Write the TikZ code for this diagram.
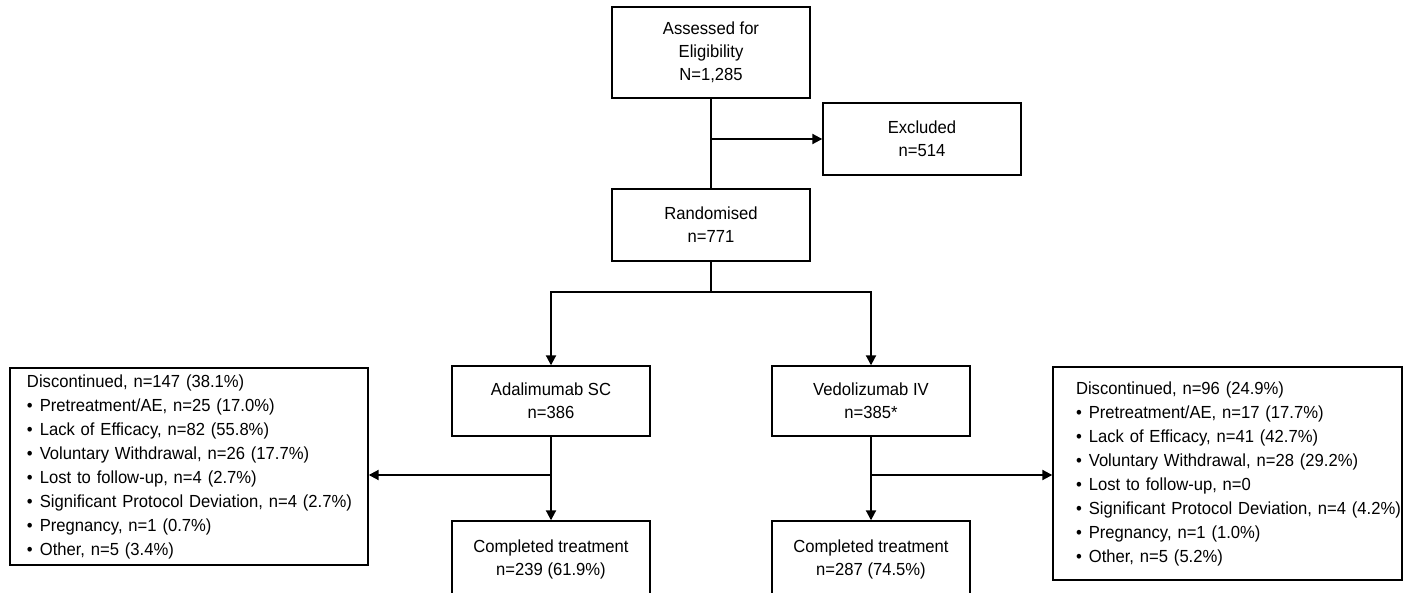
\documentclass[tikz,border=0pt]{standalone}
\usepackage{fontspec}
\setmainfont{Liberation Sans}[FakeStretch=0.95]
\usetikzlibrary{arrows.meta}

\begin{document}
\begin{tikzpicture}[x=1pt, y=-1pt,
    box/.style={draw, line width=1.4pt, minimum width=198pt, align=center, font=\fontsize{17.5}{23}\selectfont},
    reasons/.style={draw, line width=1.4pt, inner xsep=0pt, align=left, font=\fontsize{17.5}{24}\selectfont},
    flow/.style={line width=2pt},
    arr/.style={line width=2pt, -{Triangle[length=10pt,width=10pt]}}]
    \useasboundingbox (0,0) rectangle (1411,593);
    \node[box, minimum height=91pt] (assess) at (711,52.5) {Assessed for\\Eligibility\\N=1,285}; % top box
    \node[box, minimum height=72pt] (excl) at (922,139) {Excluded\\n=514};
    \node[box, minimum height=72pt] (rand) at (711,225) {Randomised\\n=771};
    \node[box, minimum height=70pt] (ada) at (551,401) {Adalimumab SC\\n=386}; % arm 1
    \node[box, minimum height=70pt] (vedo) at (871,401) {Vedolizumab IV\\n=385*}; % arm 2
    \node[box, minimum height=76pt] (comp1) at (551,559) {Completed treatment\\n=239 (61.9\%)};
    \node[box, minimum height=76pt] (comp2) at (871,559) {Completed treatment\\n=287 (74.5\%)};
    \node[reasons, text width=358pt, minimum height=197pt] (disc1) at (189,466.5) {\leftskip=17pt
        Discontinued, n=147 (38.1\%)\\
        \textbullet\hspace{7pt}Pretreatment/AE, n=25 (17.0\%)\\
        \textbullet\hspace{7pt}Lack of Efficacy, n=82 (55.8\%)\\
        \textbullet\hspace{7pt}Voluntary Withdrawal, n=26 (17.7\%)\\
        \textbullet\hspace{7pt}Lost to follow-up, n=4 (2.7\%)\\
        \textbullet\hspace{7pt}Significant Protocol Deviation, n=4 (2.7\%)\\
        \textbullet\hspace{7pt}Pregnancy, n=1 (0.7\%)\\
        \textbullet\hspace{7pt}Other, n=5 (3.4\%)\par}; % left reasons
    \node[reasons, text width=349pt, minimum height=213pt] (disc2) at (1227.5,473.5) {\leftskip=23pt
        Discontinued, n=96 (24.9\%)\\
        \textbullet\hspace{7pt}Pretreatment/AE, n=17 (17.7\%)\\
        \textbullet\hspace{7pt}Lack of Efficacy, n=41 (42.7\%)\\
        \textbullet\hspace{7pt}Voluntary Withdrawal, n=28 (29.2\%)\\
        \textbullet\hspace{7pt}Lost to follow-up, n=0\\
        \textbullet\hspace{7pt}Significant Protocol Deviation, n=4 (4.2\%)\\
        \textbullet\hspace{7pt}Pregnancy, n=1 (1.0\%)\\
        \textbullet\hspace{7pt}Other, n=5 (5.2\%)\par}; % right reasons
    \coordinate (split) at (711,292); % fork under randomised
    \coordinate (lbranch) at (551,475);
    \coordinate (rbranch) at (871,475);
    \draw[flow] (assess) -- (rand); % trunk
    \draw[arr] (assess.south |- excl) -- (excl.west); % excluded
    \draw[flow] (rand) -- (split);
    \draw[arr] (split) -| (ada);
    \draw[arr] (split) -| (vedo);
    \draw[arr] (ada) -- (comp1);
    \draw[arr] (vedo) -- (comp2);
    \draw[arr] (lbranch) -- (lbranch -| disc1.east); % left discontinued
    \draw[arr] (rbranch) -- (rbranch -| disc2.west); % right discontinued
\end{tikzpicture}
\end{document}
